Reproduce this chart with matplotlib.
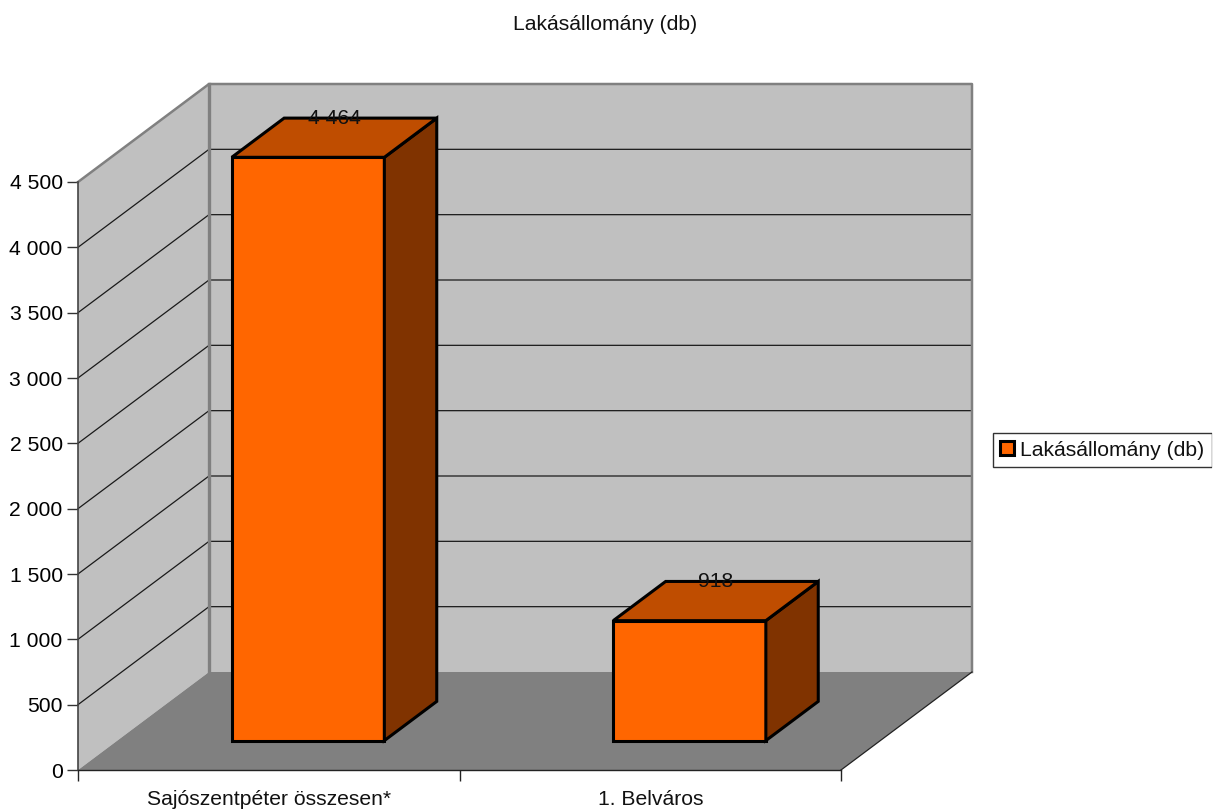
import matplotlib
matplotlib.use("Agg")
import matplotlib.pyplot as plt
from matplotlib.lines import Line2D
from matplotlib.patches import Polygon, Patch

categories = ["Sajószentpéter összesen*", "1. Belváros"]
values = [4464, 918]
value_labels = ["4 464", "918"]
y_ticks = [0, 500, 1000, 1500, 2000, 2500, 3000, 3500, 4000, 4500]
y_tick_labels = ["0", "500", "1 000", "1 500", "2 000", "2 500", "3 000", "3 500", "4 000", "4 500"]
series_name = "Lakásállomány (db)"

W, H = 1213, 811
fs = 15.2
plt.rcParams["font.family"] = ["Liberation Sans", "DejaVu Sans"]
plt.rcParams["font.size"] = fs

fig = plt.figure(figsize=(W / 100, H / 100), dpi=100)
# front plane of the box, in pixels of the picture
left, right, top, bottom = 78, 841, 182, 770
ax = fig.add_axes([left / W, 1 - bottom / H, (right - left) / W, (bottom - top) / H])
ax.set_xlim(0, 2)
ax.set_ylim(0, 4500)
for s in ax.spines.values():
    s.set_visible(False)
ax.patch.set_visible(False)

# depth is faked by shearing: full depth moves 131 px right and 98 px up
dx = 131 / ((right - left) / 2)
dy = 98 / ((bottom - top) / 4500)


def pr(x, y, d):
    return (x + d * dx, y + d * dy)


def face(pts, **kw):
    ax.add_patch(Polygon([pr(*p) for p in pts], closed=True, clip_on=False, **kw))


wall = "#c0c0c0"
floor = "#808080"
edge = "#808080"
ymax = y_ticks[-1]

# walls and floor
face([(0, 0, 1), (2, 0, 1), (2, ymax, 1), (0, ymax, 1)], fc=wall, ec="none", zorder=1)
face([(0, 0, 0), (0, 0, 1), (0, ymax, 1), (0, ymax, 0)], fc=wall, ec="none", zorder=1)
face([(0, 0, 0), (2, 0, 0), (2, 0, 1), (0, 0, 1)], fc=floor, ec="none", zorder=1)

# grid lines
for t in y_ticks[1:-1]:
    a, b, c = pr(0, t, 0), pr(0, t, 1), pr(2, t, 1)
    ax.plot([a[0], b[0], c[0]], [a[1], b[1], c[1]], color="#1a1a1a", lw=0.9, clip_on=False, zorder=2)

# wall outlines
a, b, c, d = pr(0, ymax, 0), pr(0, ymax, 1), pr(2, ymax, 1), pr(2, 0, 1)
ax.plot([a[0], b[0], c[0], d[0]], [a[1], b[1], c[1], d[1]], color=edge, lw=1.8, clip_on=False, zorder=2)
a, b = pr(0, ymax, 1), pr(0, 0, 1)
ax.plot([a[0], b[0]], [a[1], b[1]], color=edge, lw=2.4, clip_on=False, zorder=2)
a, b = pr(2, 0, 0), pr(2, 0, 1)
ax.plot([a[0], b[0]], [a[1], b[1]], color="#222222", lw=0.9, clip_on=False, zorder=2)

# bars
bar_w = 0.4
d0, d1 = 0.3, 0.7
for i, v in enumerate(values):
    x0, x1 = i + 0.5 - bar_w / 2, i + 0.5 + bar_w / 2
    kw = dict(ec="black", lw=2.2, joinstyle="miter", zorder=3)
    face([(x0, 0, d0), (x1, 0, d0), (x1, v, d0), (x0, v, d0)], fc="#ff6600", **kw)
    face([(x1, 0, d0), (x1, 0, d1), (x1, v, d1), (x1, v, d0)], fc="#803300", **kw)
    face([(x0, v, d0), (x1, v, d0), (x1, v, d1), (x0, v, d1)], fc="#bf4d00", **kw)
    # label sits at mid depth in x, on the back top edge in y
    lx = pr(i + 0.5, v, 0.5)[0]
    ly = pr(i + 0.5, v, d1)[1]
    ax.text(lx, ly, value_labels[i], ha="center", va="center", color="#111111", zorder=4, clip_on=False)

# axes
ax.set_yticks(y_ticks, y_tick_labels)
ax.set_xticks([0, 1, 2], ["", "", ""])
ax.tick_params(axis="y", length=8, width=1, color="#333333", pad=3)
ax.tick_params(axis="x", length=8, width=1, color="#222222")
ax.spines["left"].set_visible(True)
ax.spines["left"].set_color("#444444")
ax.spines["left"].set_linewidth(1.2)
ax.spines["bottom"].set_visible(True)
ax.spines["bottom"].set_color("#222222")
ax.spines["bottom"].set_linewidth(1)
ax.spines["left"].set_zorder(5)
ax.spines["bottom"].set_zorder(5)
for i, c in enumerate(categories):
    ax.annotate(c, (i + 0.5, 0), xytext=(0, -20), textcoords="offset pixels",
                ha="center", va="top", annotation_clip=False, color="#111111")

fig.text(605 / W, 1 - 25 / H, series_name, ha="center", va="center", color="#111111")

fig.legend(handles=[Patch(fc="#ff6600", ec="black", lw=2.2, label=series_name)],
           loc="center right", bbox_to_anchor=(1212 / W, 1 - 450 / H),
           bbox_transform=fig.transFigure, fancybox=False, framealpha=1,
           edgecolor="#333333", borderpad=0.35, handlelength=0.65, handleheight=0.65,
           handletextpad=0.3, borderaxespad=0, fontsize=fs, labelcolor="#111111")
# the legend box runs off the right side of the picture, no right border shows
fig.add_artist(Line2D([1212.5 / W, 1212.5 / W], [1 - 470 / H, 1 - 430 / H], color="white", lw=2, zorder=10))

fig.savefig("out.png", dpi=100)
